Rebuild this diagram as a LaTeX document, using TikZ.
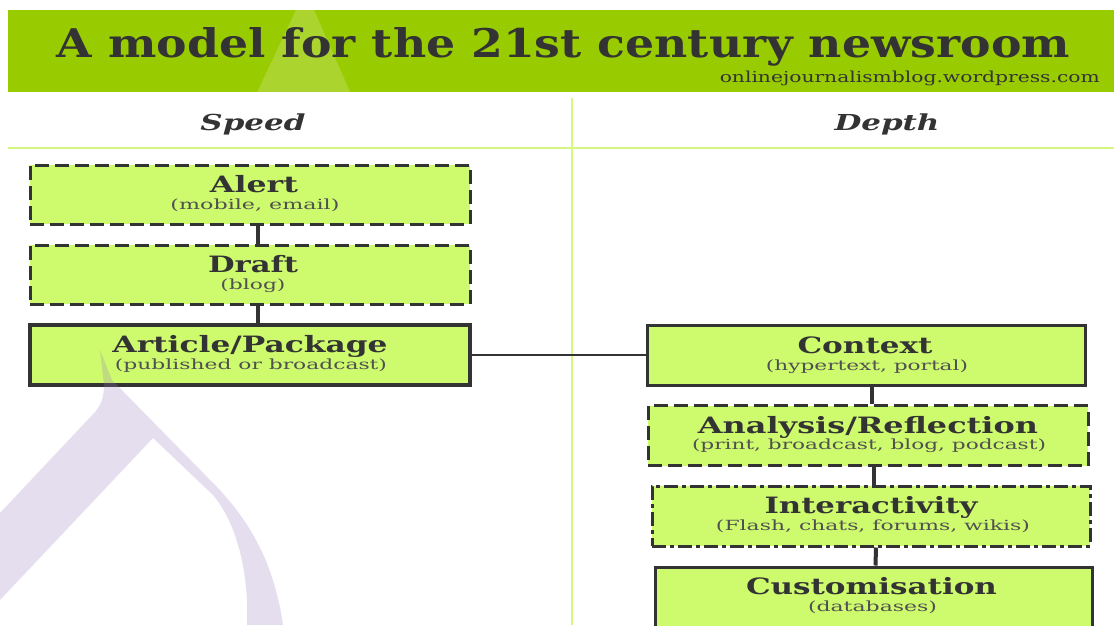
\documentclass[tikz,border=0pt]{standalone}
\usepackage{fontspec}
\setmainfont{DejaVu Serif}
\definecolor{band}{RGB}{153,204,0}
\definecolor{boxfill}{RGB}{206,250,110}
\definecolor{rulegreen}{RGB}{214,248,130}
\definecolor{ink}{RGB}{51,51,51}
\definecolor{subink}{RGB}{80,80,80}
\definecolor{lav}{RGB}{150,120,190}
\newcommand\fitw[2]{\resizebox{#1}{\height}{#2}}
\begin{document}
\begin{tikzpicture}[x=1pt,y=-1pt,
  box/.style={draw=ink, fill=boxfill, line width=3pt, inner sep=0pt},
  dashbox/.style={box, dash pattern=on 14pt off 6pt},
  dotbox/.style={box, dash pattern=on 14pt off 4pt on 4pt off 4pt},
  ttl/.style={anchor=base, text=ink, inner sep=0pt, font=\fontsize{22.5}{22.5}\selectfont\bfseries},
  subt/.style={anchor=base, text=subink, inner sep=0pt, font=\fontsize{14}{14}\selectfont},
  hdr/.style={anchor=base, text=ink, inner sep=0pt, font=\fontsize{22}{22}\selectfont\bfseries\itshape},
  link/.style={draw=ink, line width=4pt},
  hlink/.style={draw=ink, line width=2pt},
  rulel/.style={draw=rulegreen, line width=2pt}]
\useasboundingbox (0,0) rectangle (1114,625);
\fill[white] (0,0) rectangle (1114,625);
% title band
\fill[band] (8,10) rectangle (1114,92);
\begin{scope}
\clip (8,10) rectangle (1114,92);
\fill[white, opacity=0.18] (296,10) -- (314,10) -- (394,192) -- (210,192) -- cycle;
\end{scope}
\node[anchor=base, text=ink, inner sep=0pt] (title) at (563.5,57)
  {\resizebox{1013pt}{30pt}{\bfseries A model for the 21st century newsroom}};
\node[anchor=base east, text=ink, inner sep=0pt] (url) at (1100,82)
  {\resizebox{380pt}{11.5pt}{onlinejournalismblog.wordpress.com}};
% column rules
\draw[rulel] (572,98) -- (572,625);
\draw[rulel] (8,148) -- (1114,148);
\node[hdr] (speed) at (253,130) {\fitw{105pt}{Speed}};
\node[hdr] (depth) at (887,130) {\fitw{105pt}{Depth}};
% left boxes
\node[dashbox, minimum width=440, minimum height=59] (alert) at (250,194.5) {};
\node[dashbox, minimum width=440, minimum height=59] (draft) at (250,274.5) {};
\node[box, line width=3.5pt, minimum width=440, minimum height=60] (article) at (250,355) {};
% right boxes
\node[box, minimum width=438, minimum height=60] (context) at (866,355) {};
\node[dashbox, minimum width=440, minimum height=60] (analysis) at (868,435.5) {};
\node[dotbox, minimum width=438, minimum height=60] (inter) at (871,516) {};
\node[box, minimum width=437, minimum height=60] (custom) at (873.5,597) {};
% connectors
\draw[link] ([xshift=8pt]alert.south) -- ([xshift=8pt]draft.north);
\draw[link] ([xshift=8pt]draft.south) -- ([xshift=8pt]article.north);
\draw[hlink] (article.east) -- (context.west);
\draw[link] ([xshift=6pt]context.south) -- ([xshift=4pt]analysis.north);
\draw[link] ([xshift=6pt]analysis.south) -- ([xshift=3pt]inter.north);
\draw[link] ([xshift=5pt]inter.south) -- ([xshift=2pt]custom.north);
% texts
\node[ttl] (alertT) at ([xshift=4pt,yshift=-29pt]alert.north) {\fitw{88pt}{Alert}};
\node[subt] (alertS) at ([xshift=5pt,yshift=-46pt]alert.north) {\fitw{169pt}{(mobile, email)}};
\node[ttl] (draftT) at ([xshift=3pt,yshift=-29pt]draft.north) {\fitw{90pt}{Draft}};
\node[subt] (draftS) at ([xshift=3pt,yshift=-46pt]draft.north) {\fitw{65pt}{(blog)}};
\node[ttl] (articleT) at ([xshift=0pt,yshift=-29.5pt]article.north) {\fitw{275pt}{Article/Package}};
\node[subt] (articleS) at ([xshift=1pt,yshift=-46pt]article.north) {\fitw{272pt}{(published or broadcast)}};
\node[ttl] (contextT) at ([xshift=-1pt,yshift=-29.5pt]context.north) {\fitw{135pt}{Context}};
\node[subt] (contextS) at ([xshift=1pt,yshift=-46.5pt]context.north) {\fitw{202pt}{(hypertext, portal)}};
\node[ttl] (analysisT) at ([xshift=0pt,yshift=-29.5pt]analysis.north) {\fitw{340pt}{Analysis/Reflection}};
\node[subt] (analysisS) at ([xshift=1pt,yshift=-45.5pt]analysis.north) {\fitw{354pt}{(print, broadcast, blog, podcast)}};
\node[ttl] (interT) at ([xshift=0pt,yshift=-29pt]inter.north) {\fitw{213pt}{Interactivity}};
\node[subt] (interS) at ([xshift=2pt,yshift=-45.5pt]inter.north) {\fitw{314pt}{(Flash, chats, forums, wikis)}};
\node[ttl] (customT) at ([xshift=-2pt,yshift=-29pt]custom.north) {\fitw{251pt}{Customisation}};
\node[subt] (customS) at ([xshift=-1pt,yshift=-45.5pt]custom.north) {\fitw{129pt}{(databases)}};
% watermark
\fill[lav, opacity=0.24] (0,513) -- (95,412) .. controls (102,404) and (104,396) .. (104,385)
  -- (100,350) -- (112,380) -- (217,487) .. controls (255,527) and (275,570) .. (283,625)
  -- (247,625) .. controls (249,575) and (238,525) .. (213,495) -- (153,438) -- (0,600) -- cycle;
\end{tikzpicture}
\end{document}
